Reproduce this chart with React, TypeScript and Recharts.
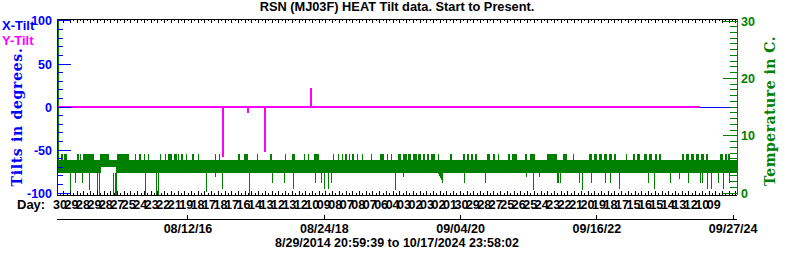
import { Area, ComposedChart, Legend, Line, XAxis, YAxis } from "recharts"

const BLUE = "#0000ff"
const MAGENTA = "#ff00ff"
const GREEN = "#008000"
const SANS = "'Liberation Sans', Arial, sans-serif"
const SERIF = "'DejaVu Serif', serif"

const TITLE = "RSN (MJ03F) HEAT Tilt data. Start to Present."
const SUBTITLE = "8/29/2014 20:59:39 to 10/17/2024 23:58:02"

// x values are days since the first sample
const START = Date.UTC(2014, 7, 29, 20, 59, 39)
const END = Date.UTC(2024, 9, 17, 23, 58, 2)
const DAY_MS = 86400000
const TOTAL_DAYS = (END - START) / DAY_MS
const dayOf = (iso: string) => (Date.parse(iso + "T00:00:00Z") - START) / DAY_MS

// lower date axis
const dateTickDates = ["2016-08-12", "2018-08-24", "2020-09-04", "2022-09-16", "2024-09-27"]
const dateTickLabels = ["08/12/16", "08/24/18", "09/04/20", "09/16/22", "09/27/24"]

// crowded "Day:" row
const dayLabels = [
  "30", "29", "28", "29", "28", "27", "25", "24", "23", "22", "21", "19", "18", "17", "18",
  "17", "16", "14", "13", "12", "13", "12", "10", "09", "08", "07", "08", "07", "06", "04",
  "03", "02", "03", "02", "01", "30", "29", "28", "27", "25", "26", "25", "24", "23", "22",
  "21", "20", "19", "18", "17", "15", "16", "15", "14", "13", "12", "10", "09",
]
const DAY_FIRST = 16.3
const DAY_STEP = 62.44
const MINOR_STEP = 18.3

// temperature (C): main band, upper fringe, single spikes
const BAND_LO = 3.57
const BAND_HI = 5.78
const FRINGE_TOP = 6.83

const tempBand = [
  { day: 3, lo: 3.57, hi: 5.78 },
  { day: 239, lo: 3.57, hi: 5.78 },
  { day: 240, lo: 4.62, hi: 5.78 },
  { day: 321, lo: 4.62, hi: 5.78 },
  { day: 322, lo: 3.57, hi: 5.78 },
  { day: 2075, lo: 3.57, hi: 5.78 },
  { day: 2100, lo: 1.78, hi: 5.78 },
  { day: 2101, lo: 3.57, hi: 5.78 },
  { day: 3702, lo: 3.57, hi: 5.78 },
]

const tempUpBlocks = [
  [22, 31], [40, 53], [107, 118], [125, 131], [140, 203], [234, 281], [325, 390], [448, 456],
  [606, 624], [637, 652], [675, 684], [733, 746], [987, 996], [1018, 1041], [1159, 1170],
  [1281, 1295], [1399, 1428], [1550, 1558], [1569, 1580], [1604, 1617], [1631, 1640],
  [1658, 1667], [1758, 1780], [1795, 1803], [1858, 1871], [1885, 1903], [1912, 1927],
  [1938, 1958], [1966, 1981], [1992, 2003], [2014, 2025], [2036, 2057], [2139, 2148],
  [2211, 2221], [2232, 2242], [2253, 2264], [2275, 2284], [2339, 2357], [2375, 2384],
  [2456, 2466], [2477, 2502], [2547, 2557], [2574, 2602], [2665, 2723], [2756, 2774],
  [2897, 2912], [2923, 2939], [2950, 2966], [2977, 2994], [3004, 3021], [3032, 3046],
  [3097, 3104], [3137, 3146], [3157, 3173], [3197, 3211], [3222, 3237], [3255, 3266],
  [3277, 3291], [3400, 3413], [3424, 3440], [3451, 3467], [3478, 3494], [3505, 3522],
  [3532, 3545], [3612, 3625], [3636, 3647], [3655, 3663],
]

const tempUpSpikes = [
  { day: 6, top: 31 },
  { day: 430, top: 6.83 }, { day: 475, top: 6.83 }, { day: 497, top: 6.83 }, { day: 564, top: 6.83 },
  { day: 588, top: 6.83 }, { day: 662, top: 6.83 }, { day: 706, top: 6.83 }, { day: 769, top: 6.83 },
  { day: 865, top: 6.83 }, { day: 883, top: 6.83 }, { day: 1090, top: 6.83 }, { day: 1246, top: 6.83 },
  { day: 1350, top: 6.83 }, { day: 1368, top: 6.83 }, { day: 1508, top: 6.83 }, { day: 1531, top: 6.83 },
  { day: 1591, top: 6.83 }, { day: 1713, top: 6.83 }, { day: 1822, top: 6.83 }, { day: 2075, top: 6.83 },
  { day: 2402, top: 6.83 }, { day: 2810, top: 6.83 },
]

const tempDownSpikes = [
  { day: 75, low: -0.3 }, { day: 98, low: 1.78 }, { day: 138, low: 1.78 }, { day: 176, low: 0.56 },
  { day: 222, low: -0.3 }, { day: 229, low: -0.3 }, { day: 306, low: -0.3 }, { day: 316, low: -0.3 },
  { day: 325, low: -0.3 }, { day: 484, low: -0.3 }, { day: 539, low: -0.3 }, { day: 551, low: -0.3 },
  { day: 814, low: 0.2 }, { day: 862, low: 2.82 }, { day: 900, low: 0.73 }, { day: 1047, low: -0.3 },
  { day: 1172, low: 1.78 }, { day: 1237, low: 1.78 }, { day: 1286, low: 0.73 }, { day: 1408, low: 1.78 },
  { day: 1441, low: 1.78 }, { day: 1455, low: 0.73 }, { day: 1477, low: 0.73 }, { day: 1495, low: 1.78 },
  { day: 1842, low: 0.56 }, { day: 1885, low: 2.82 }, { day: 2217, low: 1.78 }, { day: 2331, low: 1.78 },
  { day: 2557, low: 2.82 }, { day: 2594, low: 0.56 }, { day: 2625, low: 2.82 }, { day: 2724, low: 1.78 },
  { day: 2732, low: 1.78 }, { day: 2742, low: 1.78 }, { day: 2847, low: 1.78 }, { day: 2863, low: 0.56 },
  { day: 2910, low: 1.78 }, { day: 2984, low: 1.78 }, { day: 3015, low: 1.78 }, { day: 3061, low: 0.73 },
  { day: 3218, low: 1.78 }, { day: 3251, low: 0.73 }, { day: 3340, low: 1.78 }, { day: 3387, low: 2.47 },
  { day: 3438, low: 1.78 }, { day: 3505, low: 1.78 }, { day: 3513, low: 1.78 }, { day: 3540, low: 0.73 },
  { day: 3563, low: 0.73 }, { day: 3599, low: 1.78 }, { day: 3627, low: 0.73 }, { day: 3663, low: 1.78 },
]

// tilts (degrees); X-Tilt only shows where Y-Tilt does not cover it
const xTilt = [
  { day: 3498, x: 0 },
  { day: 3702, x: 0 },
]
const yTilt = [
  { day: 0, y: 0 },
  { day: 902, y: 0 }, { day: 903.5, y: -58 }, { day: 905, y: 0 },
  { day: 1038, y: 0 }, { day: 1039.6, y: -7 }, { day: 1041, y: 0 },
  { day: 1130.6, y: 0 }, { day: 1132.1, y: -52 }, { day: 1133.6, y: 0 },
  { day: 1381, y: 0 }, { day: 1382.5, y: 22 }, { day: 1384, y: 0 },
  { day: 3500, y: 0 },
]

// series data for recharts
const bandData = tempBand.map((d) => ({ day: d.day, band: [d.lo, d.hi] }))
const blockData = tempUpBlocks.flatMap(([a, b]) => [
  { day: a, fringe: [BAND_HI - 0.1, FRINGE_TOP] },
  { day: b, fringe: [BAND_HI - 0.1, FRINGE_TOP] },
  { day: b, fringe: null },
])
const spikeData = [
  ...tempUpSpikes.flatMap((s) => [
    { day: s.day, spike: BAND_HI },
    { day: s.day, spike: s.top },
    { day: s.day, spike: null },
  ]),
  ...tempDownSpikes.flatMap((s) => [
    { day: s.day, spike: BAND_LO },
    { day: s.day, spike: s.low },
    { day: s.day, spike: null },
  ]),
]

const tiltTicks = Array.from({ length: 21 }, (_, i) => -100 + i * 10)
const tempTicks = Array.from({ length: 31 }, (_, i) => i)
const minorTicks = Array.from({ length: Math.floor(TOTAL_DAYS / MINOR_STEP) }, (_, i) => (i + 1) * MINOR_STEP)
const dayTicks = dayLabels.map((_, i) => DAY_FIRST + i * DAY_STEP)
const dayAxisTicks = [...minorTicks, ...dayTicks]
const dayLabelAt = new Map(dayTicks.map((d, i) => [d, dayLabels[i]]))
const dateTicks = dateTickDates.map(dayOf)
const dateLabelAt = new Map(dateTicks.map((d, i) => [d, dateTickLabels[i]]))
const X_DOMAIN = [0, TOTAL_DAYS]

const textStyle = { fontFamily: SANS, fontWeight: "bold" as const, fontSize: 12.5 }

const tiltTick = ({ x, y, payload }: any) => {
  const major = payload.value % 50 === 0
  return (
    <g>
      <line x1={x} x2={x + (major ? 14 : 6)} y1={y} y2={y} stroke={BLUE} />
      {major && (
        <text x={x - 5} y={y + 4.5} textAnchor="end" fill={BLUE} {...textStyle}>
          {payload.value}
        </text>
      )}
    </g>
  )
}

const tempTick = ({ x, y, payload }: any) => {
  const major = payload.value % 10 === 0
  return (
    <g>
      <line x1={x} x2={x - (major ? 14 : 7)} y1={y} y2={y} stroke={GREEN} />
      {major && (
        <text x={x + 4} y={y + 4.5} textAnchor="start" fill={GREEN} {...textStyle}>
          {payload.value}
        </text>
      )}
    </g>
  )
}

const topTick = ({ x, y, payload }: any) => {
  const tall = Math.round(payload.value / MINOR_STEP) % 2 === 0
  return <line x1={x} x2={x} y1={y} y2={y + (tall ? 4 : 2)} stroke="#000" />
}

const dayTick = ({ x, y, payload }: any) => {
  const label = dayLabelAt.get(payload.value)
  if (label == null) {
    const tall = Math.round(payload.value / MINOR_STEP) % 2 === 0
    return <line x1={x} x2={x} y1={y} y2={y - (tall ? 4 : 2)} stroke="#000" />
  }
  return (
    <text x={x} y={y + 14} textAnchor="middle" fill="#000" {...textStyle}>
      {label}
    </text>
  )
}

const dateTick = ({ x, y, payload }: any) => (
  <g>
    <line x1={x} x2={x} y1={y} y2={y - 4} stroke="#000" />
    <text x={x} y={y + 14.3} textAnchor="middle" fill="#000" {...textStyle}>
      {dateLabelAt.get(payload.value)}
    </text>
  </g>
)

const titleLabel = {
  content: ({ viewBox }: any) => (
    <text x={viewBox.x + viewBox.width / 2} y={viewBox.y + viewBox.height - 8.5} textAnchor="middle" fill="#000" fontFamily={SANS} fontWeight="bold" fontSize={12.8}>
      {TITLE}
    </text>
  ),
}

const dayLabel = {
  content: ({ viewBox }: any) => (
    <text x={viewBox.x - 40} y={viewBox.y + 14} textAnchor="start" fill="#000" fontFamily={SANS} fontWeight="bold" fontSize={13}>
      Day:
    </text>
  ),
}

const subtitleLabel = {
  content: ({ viewBox }: any) => (
    <text x={viewBox.x + viewBox.width / 2} y={viewBox.y + 27.5} textAnchor="middle" fill="#000" {...textStyle}>
      {SUBTITLE}
    </text>
  ),
}

const tiltTitle = {
  content: ({ viewBox }: any) => {
    const cx = viewBox.x + 22
    const cy = viewBox.y + viewBox.height / 2 + 10
    return (
      <text x={cx} y={cy} transform={`rotate(-90 ${cx} ${cy})`} textAnchor="middle" fill={BLUE} fontFamily={SERIF} fontWeight="bold" fontSize={14} letterSpacing={0.7}>
        Tilts in degrees.
      </text>
    )
  },
}

const tempTitle = {
  content: ({ viewBox }: any) => {
    const cx = viewBox.x + 38
    const cy = viewBox.y + viewBox.height / 2 + 4
    return (
      <text x={cx} y={cy} transform={`rotate(-90 ${cx} ${cy})`} textAnchor="middle" fill={GREEN} fontFamily={SERIF} fontWeight="bold" fontSize={14} letterSpacing={0.5}>
        Temperature in C.
      </text>
    )
  },
}

const legendContent = () => (
  <div style={{ fontFamily: SANS, fontWeight: "bold", fontSize: 13, lineHeight: "15px", textAlign: "left" }}>
    <div style={{ color: BLUE }}>X-Tilt</div>
    <div style={{ color: MAGENTA }}>Y-Tilt</div>
  </div>
)

const blackLine = { stroke: "#000" }
const blueLine = { stroke: BLUE }
const greenLine = { stroke: GREEN }
const legendStyle = { left: 2, top: 18, width: "auto", height: "auto" }

export default function App() {
  return (
    <div style={{ position: "absolute", left: 0, top: 0, width: 800, height: 256, background: "#fff", shapeRendering: "crispEdges" }}>
      <ComposedChart width={800} height={256} margin={{ top: 18, right: 0, bottom: 0, left: 0 }}>
        <XAxis
          xAxisId="xtop"
          dataKey="day"
          orientation="top"
          type="number"
          domain={X_DOMAIN}
          allowDataOverflow
          height={1}
          ticks={minorTicks}
          interval={0}
          tickSize={0}
          tickMargin={0}
          tickLine={false}
          axisLine={blackLine}
          tick={topTick}
          label={titleLabel}
        />
        <XAxis
          xAxisId="xa"
          dataKey="day"
          type="number"
          domain={X_DOMAIN}
          allowDataOverflow
          height={24}
          ticks={dayAxisTicks}
          interval={0}
          tickSize={0}
          tickMargin={0}
          tickLine={false}
          axisLine={blackLine}
          tick={dayTick}
          label={dayLabel}
        />
        <XAxis
          xAxisId="xb"
          dataKey="day"
          type="number"
          domain={X_DOMAIN}
          allowDataOverflow
          height={37}
          ticks={dateTicks}
          interval={0}
          tickSize={0}
          tickMargin={0}
          tickLine={false}
          axisLine={blackLine}
          tick={dateTick}
          label={subtitleLabel}
        />
        <YAxis
          yAxisId="tilt"
          orientation="left"
          width={57}
          domain={[-102.1, 102.3]}
          allowDataOverflow
          ticks={tiltTicks}
          interval={0}
          tickSize={0}
          tickMargin={0}
          tickLine={false}
          axisLine={blueLine}
          tick={tiltTick}
          label={tiltTitle}
        />
        <YAxis
          yAxisId="temp"
          orientation="right"
          width={63}
          domain={[-0.31, 30.35]}
          allowDataOverflow
          ticks={tempTicks}
          interval={0}
          tickSize={0}
          tickMargin={0}
          tickLine={false}
          axisLine={greenLine}
          tick={tempTick}
          label={tempTitle}
        />
        <Legend layout="horizontal" verticalAlign="middle" align="center" wrapperStyle={legendStyle} content={legendContent} />
        <Area data={bandData} dataKey="band" xAxisId="xa" yAxisId="temp" type="linear" stroke="none" fill={GREEN} fillOpacity={1} isAnimationActive={false} />
        <Area data={blockData} dataKey="fringe" xAxisId="xa" yAxisId="temp" type="linear" stroke="none" fill={GREEN} fillOpacity={1} connectNulls={false} isAnimationActive={false} />
        <Line data={spikeData} dataKey="spike" xAxisId="xa" yAxisId="temp" type="linear" stroke={GREEN} strokeWidth={1} dot={false} activeDot={false} connectNulls={false} isAnimationActive={false} />
        <Line data={xTilt} dataKey="x" xAxisId="xa" yAxisId="tilt" type="linear" stroke={BLUE} strokeWidth={1} dot={false} activeDot={false} isAnimationActive={false} />
        <Line data={yTilt} dataKey="y" xAxisId="xa" yAxisId="tilt" type="linear" stroke={MAGENTA} strokeWidth={2} dot={false} activeDot={false} isAnimationActive={false} />
      </ComposedChart>
    </div>
  )
}
